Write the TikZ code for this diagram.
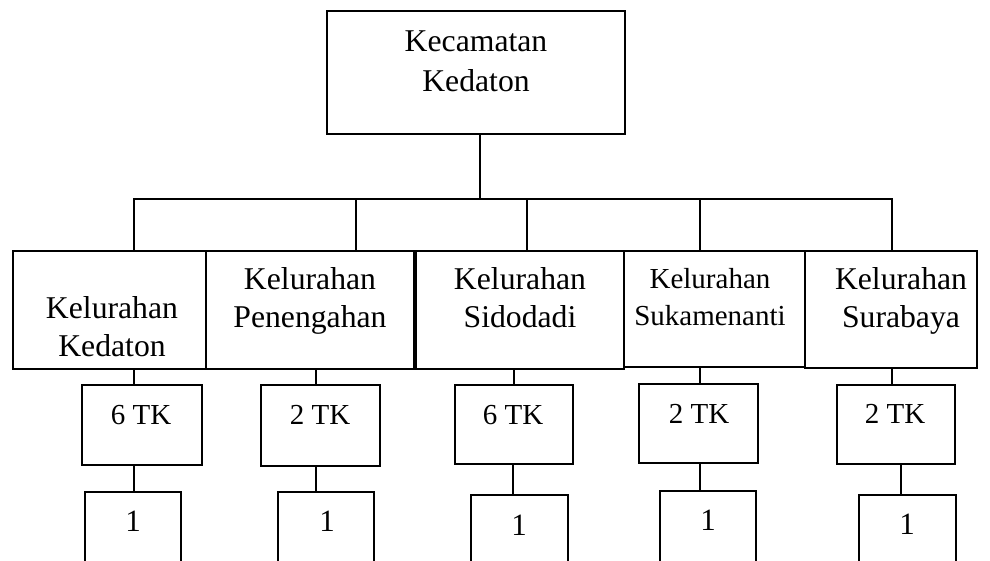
\documentclass[tikz,border=0pt]{standalone}
\usepackage{fontspec}
\setmainfont{Liberation Serif}
\newcommand\bx[5]{\node[box, minimum width={(#4)-(#2)}, minimum height={(#5)-(#3)}] (#1) at ({((#2)+(#4))/2},{((#3)+(#5))/2}) {};}
\begin{document}
\begin{tikzpicture}[x=1pt,y=-1pt, line width=1.3pt,
  box/.style={draw, inner sep=0pt},
  big/.style={anchor=base, inner sep=0pt, align=center, font=\fontsize{31.7}{38}\selectfont},
  mid/.style={anchor=base, inner sep=0pt, align=center, font=\fontsize{29}{37}\selectfont},
  num/.style={anchor=base, inner sep=0pt, font=\fontsize{31}{37}\selectfont}]
\useasboundingbox (0,0) rectangle (990,561);
\clip (0,0) rectangle (990,561);
% boxes
\bx{kec}{327}{11}{625}{134}
\bx{b1}{13}{251}{206}{369}
\bx{b2}{206}{251}{414}{369}
\bx{b3}{416}{251}{624}{369}
\bx{b4}{624}{251}{805}{367}
\bx{b5}{805}{251}{977}{368}
\bx{t1}{82}{385}{202}{465}
\bx{t2}{261}{385}{380}{466}
\bx{t3}{455}{385}{573}{464}
\bx{t4}{639}{384}{758}{463}
\bx{t5}{837}{385}{955}{464}
\bx{o1}{85}{492}{181}{600}
\bx{o2}{278}{492}{374}{600}
\bx{o3}{471}{495}{568}{600}
\bx{o4}{660}{491}{756}{600}
\bx{o5}{859}{495}{956}{600}
% texts (anchor at baseline of last line)
\node[big, font=\fontsize{31.7}{40}\selectfont] (kect) at (476,92) {Kecamatan\\Kedaton};
\node[big] (b1t) at (112,356) {Kelurahan\\Kedaton};
\node[big] (b2t) at (310,327) {Kelurahan\\Penengahan};
\node[big] (b3t) at (520,327) {Kelurahan\\Sidodadi};
\node[mid] (b4t) at (710,325) {Kelurahan\\Sukamenanti};
\node[big] (b5t) at (901,327) {Kelurahan\\Surabaya};
\node[mid] (t1t) at (141,424) {6 TK};
\node[mid] (t2t) at (320,424) {2 TK};
\node[mid] (t3t) at (513,424) {6 TK};
\node[mid] (t4t) at (699,423) {2 TK};
\node[mid] (t5t) at (895,423) {2 TK};
\node[num] (o1t) at (133,531) {1};
\node[num] (o2t) at (327,531) {1};
\node[num] (o3t) at (519,535) {1};
\node[num] (o4t) at (708,530) {1};
\node[num] (o5t) at (907,534) {1};
% connector x positions
\coordinate (xk) at (480,199);
\coordinate (d1) at (134,199);
\coordinate (d2) at (356,199);
\coordinate (d3) at (527,199);
\coordinate (d4) at (700,199);
\coordinate (d5) at (892,199);
\coordinate (e1) at (134,0);
\coordinate (e2) at (316,0);
\coordinate (e3) at (514,0);
\coordinate (e4) at (700,0);
\coordinate (e5) at (892,0);
\coordinate (f1) at (134,0);
\coordinate (f2) at (316,0);
\coordinate (f3) at (513,0);
\coordinate (f4) at (700,0);
\coordinate (f5) at (901,0);
% connectors
\draw (kec.south -| xk) -- (xk);
\draw (b1.north -| d1) -- (d1) -- (d5) -- (b5.north -| d5);
\draw (d2) -- (b2.north -| d2);
\draw (d3) -- (b3.north -| d3);
\draw (d4) -- (b4.north -| d4);
\draw (b1.south -| e1) -- (t1.north -| e1);
\draw (b2.south -| e2) -- (t2.north -| e2);
\draw (b3.south -| e3) -- (t3.north -| e3);
\draw (b4.south -| e4) -- (t4.north -| e4);
\draw (b5.south -| e5) -- (t5.north -| e5);
\draw (t1.south -| f1) -- (o1.north -| f1);
\draw (t2.south -| f2) -- (o2.north -| f2);
\draw (t3.south -| f3) -- (o3.north -| f3);
\draw (t4.south -| f4) -- (o4.north -| f4);
\draw (t5.south -| f5) -- (o5.north -| f5);
\end{tikzpicture}
\end{document}
